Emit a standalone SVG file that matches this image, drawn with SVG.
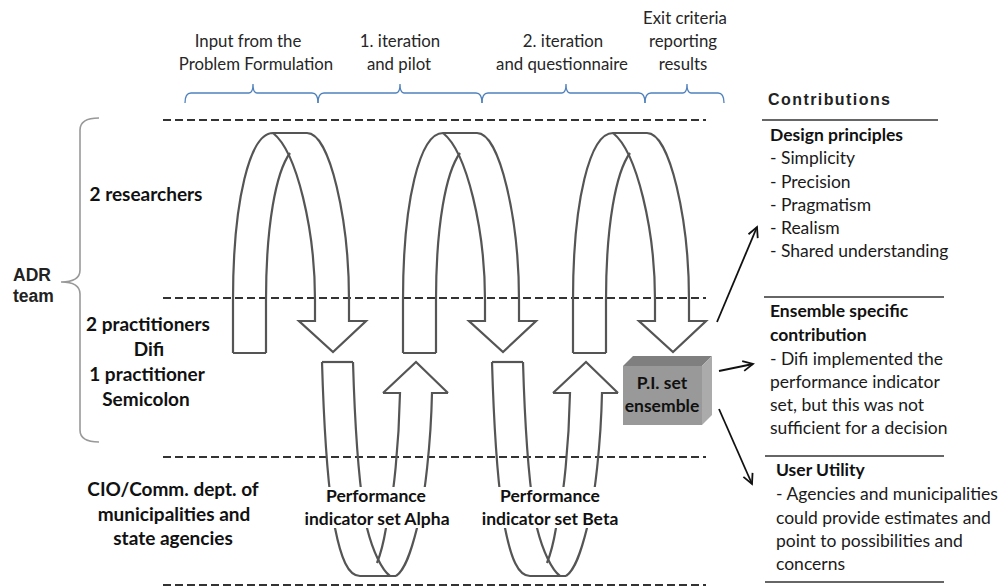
<svg xmlns="http://www.w3.org/2000/svg" xmlns:xlink="http://www.w3.org/1999/xlink" width="1000" height="588" viewBox="0 0 1000 588">
<style>
.hdr{font-family:Lato,"Noto Sans",sans-serif;font-size:16.8px;fill:#262626;text-anchor:middle}
.lbl{font-family:Lato,"Noto Sans",sans-serif;font-size:19px;font-weight:bold;fill:#111;text-anchor:middle}
.pl{font-family:Lato,"Noto Sans",sans-serif;font-size:17.5px;font-weight:bold;fill:#111;text-anchor:middle}
.rt{font-family:Lato,"Noto Sans",sans-serif;font-size:17.5px;fill:#1a1a1a}
.rb{font-family:Lato,"Noto Sans",sans-serif;font-size:17.5px;font-weight:bold;fill:#111}
.adr{font-family:"Liberation Sans",Arial,sans-serif;font-size:17.5px;font-weight:bold;fill:#222}
.dash{stroke:#333;stroke-width:2;stroke-dasharray:8 4;fill:none}
.rib{stroke:#555;stroke-width:2.2;fill:none;stroke-linejoin:miter}
.brace{stroke:#4f81bd;stroke-width:1.3;fill:none}
.sep{stroke:#333;stroke-width:1.5}
.arr{stroke:#111;stroke-width:1.8;fill:none;marker-end:url(#ah)}
</style>
<defs>
<marker id="ah" markerUnits="userSpaceOnUse" markerWidth="14" markerHeight="14" refX="11" refY="6" orient="auto" viewBox="0 0 14 12">
<path d="M1,1 L11,6 L1,11" fill="none" stroke="#111" stroke-width="1.8"/>
</marker>
<g id="spiral">
<path class="rib" d="M233,353 L233,300 C233,200 250,133 273,133 L307,133 C330,133 349,220 349,300 L349,321 L366,321 L333,352 L299,321 L315,321 L315,300 C315,230 297,152 273,133"/>
<path class="rib" d="M266,353 L266,300 C266,225 276,172 290,153"/>
<path class="rib" d="M233,353 L266,353"/>
</g>
<g id="loop">
<path class="rib" d="M322,362 C324,430 328,490 335,528 C341,558 348,576 360,576 L396,576"/>
<path class="rib" d="M322,362 L353,362"/>
<path class="rib" d="M353,362 C355,430 360,495 367,528 C373,552 382,570 390,576"/>
<path class="rib" d="M448,393 L432,393 C431,440 425,500 417,528 C411,552 405,570 396,576"/>
<path class="rib" d="M383,393 L400,393 C399,440 394,500 386,528 C384,540 381,553 377,563"/>
<path class="rib" d="M383,393 L416,362 L448,393"/>
</g>
</defs>

<g id="header">
<g id="brace-input">
<path class="brace" d="M185,103 Q185,93 191,93 L249,93 Q253,93 253,84 Q253,93 257,93 L312,93 Q318,93 318,103"/>
<text class="hdr" x="248" y="47">Input from the</text>
<text class="hdr" x="256" y="70">Problem Formulation</text>
</g>
<g id="brace-iter1">
<path class="brace" d="M318,103 Q318,93 324,93 L396,93 Q400,93 400,84 Q400,93 404,93 L476,93 Q482,93 482,103"/>
<text class="hdr" x="400" y="47">1. iteration</text>
<text class="hdr" x="399" y="70">and pilot</text>
</g>
<g id="brace-iter2">
<path class="brace" d="M482,103 Q482,93 488,93 L562,93 Q566,93 566,84 Q566,93 570,93 L639,93 Q645,93 645,103"/>
<text class="hdr" x="563" y="47">2. iteration</text>
<text class="hdr" x="562" y="70">and questionnaire</text>
</g>
<g id="brace-exit">
<path class="brace" d="M645,103 Q645,93 651,93 L683,93 Q687,93 687,84 Q687,93 691,93 L718,93 Q724,93 724,103"/>
<text class="hdr" x="685" y="24">Exit criteria</text>
<text class="hdr" x="683" y="47">reporting</text>
<text class="hdr" x="683" y="70">results</text>
</g>
</g>

<g id="lanes">
<line class="dash" x1="163" y1="120" x2="706" y2="120"/>
<line class="dash" x1="163" y1="298" x2="706" y2="298"/>
<line class="dash" x1="163" y1="457" x2="706" y2="457"/>
<line class="dash" x1="163" y1="585" x2="706" y2="585"/>
</g>

<g id="adr-team">
<path d="M99,118 Q80,118 80,130 L80,270 Q80,282 61,282 Q80,282 80,294 L80,430 Q80,442 99,442" fill="none" stroke="#999" stroke-width="1.6"/>
<text class="adr" x="13" y="281">ADR</text>
<text class="adr" x="13" y="302">team</text>
</g>

<g id="lane-labels">
<text class="lbl" x="146" y="201">2 researchers</text>
<text class="lbl" x="148" y="331">2 practitioners</text>
<text class="lbl" x="149" y="356">Difi</text>
<text class="lbl" x="147" y="381">1 practitioner</text>
<text class="lbl" x="146" y="406">Semicolon</text>
<text class="lbl" x="173" y="496">CIO/Comm. dept. of</text>
<text class="lbl" x="174" y="521">municipalities and</text>
<text class="lbl" x="173" y="545">state agencies</text>
</g>

<g id="connectors">
<g id="spiral-1"><use xlink:href="#spiral"/></g>
<g id="spiral-2"><use xlink:href="#spiral" transform="translate(170,0)"/></g>
<g id="spiral-3"><use xlink:href="#spiral" transform="translate(340,0)"/></g>
<g id="loop-alpha"><use xlink:href="#loop"/></g>
<g id="loop-beta"><use xlink:href="#loop" transform="translate(170,0)"/></g>
<line class="arr" x1="717" y1="322" x2="757" y2="227"/>
<line class="arr" x1="719" y1="371" x2="753" y2="364"/>
<line class="arr" x1="719" y1="409" x2="752" y2="484"/>
</g>

<g id="pi-alpha">
<rect x="320" y="487" width="118" height="41" fill="#fff"/>
<text class="pl" x="376" y="502">Performance</text>
<text class="pl" x="377" y="525">indicator set Alpha</text>
</g>
<g id="pi-beta">
<rect x="490" y="487" width="118" height="41" fill="#fff"/>
<text class="pl" x="550" y="502">Performance</text>
<text class="pl" x="550" y="525">indicator set Beta</text>
</g>

<g id="pi-ensemble">
<polygon points="623,366 633,356 712,356 702,366" fill="#7f7f7f"/>
<polygon points="702,366 712,356 712,415 702,425" fill="#ababab"/>
<rect x="623" y="366" width="79" height="59" fill="#999"/>
<text class="pl" x="662" y="389">P.I. set</text>
<text class="pl" x="662" y="412">ensemble</text>
</g>

<g id="contributions">
<text x="768" y="105" font-family="Liberation Sans, Arial, sans-serif" font-size="16" font-weight="bold" fill="#222" textLength="122">Contributions</text>
<line class="sep" x1="762" y1="120" x2="938" y2="120"/>
</g>
<g id="design-principles">
<text class="rb" x="770" y="141">Design principles</text>
<text class="rt" x="770" y="164">- Simplicity</text>
<text class="rt" x="770" y="188">- Precision</text>
<text class="rt" x="770" y="211">- Pragmatism</text>
<text class="rt" x="770" y="234">- Realism</text>
<text class="rt" x="770" y="257">- Shared understanding</text>
<line class="sep" x1="764" y1="297" x2="944" y2="297"/>
</g>
<g id="ensemble-contribution">
<text class="rb" x="770" y="317">Ensemble specific</text>
<text class="rb" x="770" y="341">contribution</text>
<text class="rt" x="770" y="365">- Difi implemented  the</text>
<text class="rt" x="770" y="388">performance indicator</text>
<text class="rt" x="770" y="411">set, but this was not</text>
<text class="rt" x="770" y="434">sufficient for a decision</text>
<line class="sep" x1="765" y1="456" x2="944" y2="456"/>
</g>
<g id="user-utility">
<text class="rb" x="776" y="476">User Utility</text>
<text class="rt" x="776" y="500">- Agencies and municipalities</text>
<text class="rt" x="776" y="524">could provide estimates and</text>
<text class="rt" x="776" y="547">point to possibilities and</text>
<text class="rt" x="776" y="570">concerns</text>
<line class="sep" x1="765" y1="582" x2="944" y2="582"/>
</g>
</svg>
